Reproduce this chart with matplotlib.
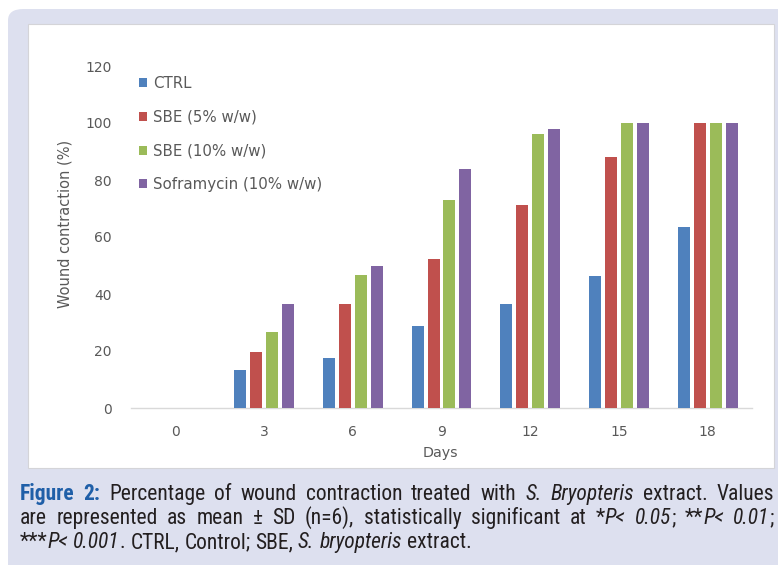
import numpy as np
import matplotlib
matplotlib.use("Agg")
import matplotlib.pyplot as plt
from matplotlib.patches import FancyBboxPatch, Rectangle
from matplotlib import font_manager

# data
days = ["0", "3", "6", "9", "12", "15", "18"]
ctrl = [0, 13.2, 17.5, 28.9, 36.5, 46.3, 63.6]
sbe5 = [0, 19.6, 36.5, 52.3, 71.2, 88.1, 100]
sbe10 = [0, 26.7, 46.8, 72.9, 96.3, 100, 100]
sofra = [0, 36.5, 50.0, 83.7, 97.9, 100, 100]
series_labels = ["CTRL", "SBE (5% w/w)", "SBE (10% w/w)", "Soframycin (10% w/w)"]
yticks = [0, 20, 40, 60, 80, 100, 120]

colors = ["#4f81bd", "#c0504d", "#9bbb59", "#8064a2"]
grey = "#595959"

W, H = 778, 565
fig = plt.figure(figsize=(W / 100, H / 100), dpi=100)
fig.patch.set_facecolor("white")

def fx(x):
    return x / W

def fy(y):
    return 1 - y / H

# lavender box + white panel
bg = FancyBboxPatch((fx(8), fy(600)), fx(800), fy(9) - fy(600),
                    boxstyle="round,pad=0,rounding_size=0.02",
                    transform=fig.transFigure, facecolor="#dde0ef",
                    edgecolor="none", zorder=-10)
fig.patches.append(bg)
panel = Rectangle((fx(28), fy(468)), fx(774) - fx(28), fy(24) - fy(468),
                  transform=fig.transFigure, facecolor="white",
                  edgecolor="#d4d4d8", linewidth=0.8, zorder=-9)
fig.patches.append(panel)

# axes
ax = fig.add_axes([fx(131), fy(408), fx(752) - fx(131), fy(66) - fy(408)])
ax.set_facecolor("none")
x = np.arange(len(days))
step = 0.18
bw = 0.135
all_vals = [ctrl, sbe5, sbe10, sofra]
for i, (vals, lab, c) in enumerate(zip(all_vals, series_labels, colors)):
    ax.bar(x + (i - 1.5) * step, vals, width=bw, color=c, label=lab, zorder=3)

ax.set_xlim(-0.5, len(days) - 0.5)
ax.set_ylim(0, 120)
ax.set_yticks(yticks)
ax.set_xticks(x)
ax.set_xticklabels(days)
for s in ["top", "right", "left"]:
    ax.spines[s].set_visible(False)
ax.spines["bottom"].set_color("#d9d9d9")
ax.spines["bottom"].set_linewidth(1.0)
ax.tick_params(axis="both", length=0, labelsize=10, labelcolor=grey)
ax.tick_params(axis="x", pad=12)
ax.tick_params(axis="y", pad=14)
ax.set_xlabel("Days", fontsize=10.3, color=grey)
ax.set_ylabel("Wound contraction (%)", fontsize=10.5, color=grey)
ax.xaxis.set_label_coords(0.499, -0.111)
ax.yaxis.set_label_coords(-0.095, 0.538)

leg = ax.legend(loc="upper left", bbox_to_anchor=(0.013, 0.970), frameon=False,
                fontsize=10.8, labelspacing=1.24, handlelength=0.55,
                handleheight=0.55, handletextpad=0.4, borderpad=0,
                borderaxespad=0)
for t in leg.get_texts():
    t.set_color(grey)

# caption font: a narrow/condensed face if one is installed
cap_font, cap_stretch = "Liberation Sans", "normal"
found = {}
for f in font_manager.fontManager.ttflist:
    if f.style == "normal":
        found.setdefault((f.name, f.stretch), True)
for name, stretch in [("Liberation Sans Narrow", "condensed"),
                      ("Liberation Sans Narrow", "semi-condensed"),
                      ("Liberation Sans Narrow", "normal"),
                      ("Roboto Condensed", "normal"),
                      ("Roboto Condensed", "condensed"),
                      ("Open Sans Condensed", "condensed"),
                      ("Open Sans", "condensed"),
                      ("Open Sans", "semi-condensed"),
                      ("Noto Sans", "condensed"),
                      ("Noto Sans", "semi-condensed"),
                      ("DejaVu Sans", "condensed"),
                      ("DejaVu Sans", "semi-condensed")]:
    if (name, stretch) in found:
        cap_font, cap_stretch = name, stretch
        break

cap_col = "#231f20"
blue = "#1f5fa8"

R = {}
B = {"weight": "bold", "color": blue}
I = {"style": "italic"}

line1 = [[("Figure", B)], [("2:", B)], [("Percentage", R)], [("of", R)],
         [("wound", R)], [("contraction", R)], [("treated", R)], [("with", R)],
         [("S.", I)], [("Bryopteris", I)], [("extract.", R)], [("Values", R)]]
line2 = [[("are", R)], [("represented", R)], [("as", R)], [("mean", R)],
         [("±", R)], [("SD", R)], [("(n=6),", R)], [("statistically", R)],
         [("significant", R)], [("at", R)], [("*", R), ("P<", I)],
         [("0.05", I), (";", R)], [("**", R), ("P<", I)], [("0.01", I), (";", R)]]
line3 = [[("***", R), ("P<", I)], [("0.001", I), (".", R)], [("CTRL,", R)],
         [("Control;", R)], [("SBE,", R)], [("S.", I)], [("bryopteris", I)],
         [("extract.", R)]]

renderer = fig.canvas.get_renderer()

def seg_width(txt, st, size):
    t = fig.text(0, 0, txt, fontsize=size, family=cap_font, stretch=cap_stretch,
                 weight=st.get("weight", "normal"), style=st.get("style", "normal"))
    w = t.get_window_extent(renderer).width
    t.remove()
    return w

def natural_width(words, size):
    sp = seg_width("a a", R, size) - seg_width("aa", R, size)
    return sum(seg_width(t, st, size) for wd in words for t, st in wd) + sp * (len(words) - 1)

# pick the caption size so line 1 fills the panel width with plain spacing
cap_size = min(15.5, 10 * 745 / natural_width(line1, 10))
space_w = seg_width("a a", R, cap_size) - seg_width("aa", R, cap_size)

def draw_line(words, ypix, x0, x1, justify):
    widths = [[seg_width(t, st, cap_size) for t, st in wd] for wd in words]
    totals = [sum(w) for w in widths]
    if justify:
        gap = (x1 - x0 - sum(totals)) / (len(words) - 1)
    else:
        gap = space_w
    xp = x0
    for wd, ws in zip(words, widths):
        for (t, st), w in zip(wd, ws):
            fig.text(fx(xp), fy(ypix), t, fontsize=cap_size, family=cap_font,
                     stretch=cap_stretch,
                     weight=st.get("weight", "normal"),
                     style=st.get("style", "normal"),
                     color=st.get("color", cap_col), va="baseline")
            xp += w
        xp += gap

draw_line(line1, 500, 20, 774, True)
draw_line(line2, 524, 20, 774, True)
draw_line(line3, 548, 20, 774, False)

fig.savefig("out.png", dpi=100)
